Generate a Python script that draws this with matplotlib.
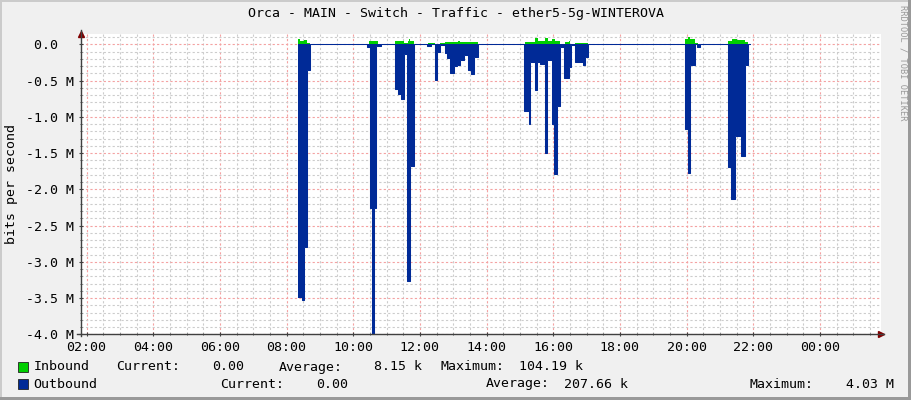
import matplotlib
matplotlib.use("Agg")
import matplotlib.pyplot as plt
import numpy as np
from matplotlib.lines import Line2D
from matplotlib.patches import Rectangle

W, H = 911, 400

title = "Orca - MAIN - Switch - Traffic - ether5-5g-WINTEROVA"

# outbound traffic, Mbit/s, value holds from each time until the next one
out_times = ["08:20", "08:27", "08:31", "08:37", "08:43",
             "10:25", "10:30", "10:33", "10:38", "10:41", "10:50",
             "11:15", "11:20", "11:26", "11:32", "11:37", "11:43", "11:50",
             "12:13", "12:20", "12:27", "12:31", "12:36", "12:45", "12:49", "12:55",
             "13:02", "13:06", "13:13", "13:19", "13:26", "13:32", "13:38", "13:44",
             "15:08", "15:16", "15:19", "15:27", "15:31", "15:37", "15:45", "15:49",
             "15:58", "16:02", "16:07", "16:13", "16:20", "16:28", "16:32", "16:40",
             "16:54", "16:58", "17:03",
             "19:57", "20:02", "20:07", "20:15", "20:19", "20:25",
             "21:15", "21:20", "21:27", "21:38", "21:45", "21:50", "21:55"]
out_mbps = [3.48, 3.52, 2.80, 0.36, 0.0,
            0.04, 2.26, 4.03, 2.26, 0.02, 0.0,
            0.62, 0.68, 0.76, 0.13, 3.26, 1.68, 0.0,
            0.03, 0.0, 0.49, 0.10, 0.01, 0.125, 0.19, 0.40,
            0.30, 0.28, 0.22, 0.15, 0.36, 0.41, 0.18, 0.0,
            0.92, 1.10, 0.25, 0.63, 0.25, 0.27, 1.50, 0.22,
            1.10, 1.79, 0.85, 0.04, 0.47, 0.31, 0.01, 0.24,
            0.28, 0.17, 0.0,
            1.17, 1.77, 0.28, 0.0, 0.04, 0.0,
            1.69, 2.14, 1.27, 1.54, 0.29, 0.0, 0.0]

# inbound traffic, kbit/s
in_times = ["08:20", "08:25", "08:32", "08:37", "08:43",
            "10:28", "10:44",
            "11:15", "11:32", "11:38", "11:40", "11:43", "11:50",
            "12:14", "12:28", "12:36", "12:46", "13:08", "13:13", "13:44",
            "15:10", "15:27", "15:33", "15:45", "15:50", "15:57", "16:03", "16:13",
            "16:21", "16:28", "16:31", "16:39", "17:03",
            "19:58", "20:02", "20:07", "20:15", "20:21",
            "21:15", "21:21", "21:31", "21:37", "21:45", "21:50", "21:55"]
in_kbps = [73, 50, 60, 20, 0,
           45, 0,
           50, 20, 50, 70, 50, 0,
           13, 0, 13, 28, 47, 28, 0,
           28, 90, 40, 90, 40, 80, 50, 10,
           28, 50, 10, 20, 0,
           69, 104, 73, 22, 0,
           45, 73, 64, 60, 28, 0, 0]

x_labels = ["02:00", "04:00", "06:00", "08:00", "10:00", "12:00",
            "14:00", "16:00", "18:00", "20:00", "22:00", "00:00"]
y_major = [0.0, -0.5, -1.0, -1.5, -2.0, -2.5, -3.0, -3.5, -4.0]

legend_rows = [
    ["Inbound", "Current:", "0.00", "Average:", "8.15 k", "Maximum:", "104.19 k"],
    ["Outbound", "Current:", "0.00", "Average:", "207.66 k", "Maximum:", "4.03 M"],
]

GREEN = "#00CF00"
BLUE = "#002A97"
MONO = "DejaVu Sans Mono"
FS = 9.5


def hours(s):
    hh, mm = s.split(":")
    return int(hh) + int(mm) / 60


def px(x, y):
    return x / W, 1 - y / H


fig = plt.figure(figsize=(W / 100, H / 100), dpi=100, facecolor="#F0F0F0")
ax = fig.add_axes([80.5 / W, (H - 334.3) / H, 800 / W, 300 / H])
ax.set_facecolor("white")

x0 = 2 - 6 / 33.33
ax.set_xlim(x0, x0 + 24)
ax.set_ylim(-4.0, 0.138)

xi = [hours(t) for t in in_times]
yi = np.array(in_kbps) / 1000
xo = [hours(t) for t in out_times]
yo = -np.array(out_mbps)

ax.fill_between(xi, yi, 0, step="post", color=GREEN, lw=0, zorder=3)
ax.fill_between(xo, yo, 0, step="post", color=BLUE, lw=0, zorder=4)
ax.step(xo, yo, where="post", color=BLUE, lw=0.75, zorder=5)

# grid
for h in np.arange(2, 26, 0.5):
    major = h % 2 == 0
    ax.axvline(h, color="#F4A2A2" if major else "#CCCCCC", lw=0.8,
               ls=(0, (2, 2)), zorder=1)
for v in np.arange(0.1, -4.05, -0.1):
    v = round(v, 1)
    major = abs(v * 2 - round(v * 2)) < 1e-6
    ax.axhline(v, color="#F4A2A2" if major else "#CCCCCC", lw=0.8,
               ls=(0, (2, 2)), zorder=1)

ax.set_xticks([2 + 2 * i for i in range(len(x_labels))])
ax.set_xticklabels(x_labels, fontfamily=MONO, fontsize=FS)
ax.set_xticks(np.arange(2, 25.9, 0.5), minor=True)
ax.set_yticks(y_major)
ax.set_yticklabels([f"{v:.1f} M" if v != 0 else "0.0  " for v in y_major],
                   fontfamily=MONO, fontsize=FS)
ax.set_yticks(np.arange(0.1, -4.05, -0.1), minor=True)
ax.tick_params(which="major", length=3, direction="inout", color="#404040", pad=3)
ax.tick_params(which="minor", length=2, direction="inout", color="#404040")

for s in ax.spines.values():
    s.set_visible(False)

# axes with arrows
axis_c = "#404040"
fig.add_artist(Line2D(*zip(px(80.5, 336), px(80.5, 30)), color=axis_c, lw=1))
fig.add_artist(Line2D(*zip(px(77, 334.3), px(884, 334.3)), color=axis_c, lw=1))
ax.plot([0], [1.0], transform=ax.transAxes, marker="^", ms=5, color="#800000",
        clip_on=False, zorder=10)
ax.plot([1.0], [0], transform=ax.transAxes, marker=">", ms=5, color="#800000",
        clip_on=False, zorder=10)

fig.text(0.5, 1 - 14 / H, title, ha="center", va="center",
         fontfamily=MONO, fontsize=FS)
fig.text(12 / W, 1 - 184 / H, "bits per second", rotation=90, ha="center",
         va="center", fontfamily=MONO, fontsize=FS)
fig.text(903 / W, 1 - 5 / H, "RRDTOOL / TOBI OETIKER", rotation=270,
         ha="center", va="top", fontfamily=MONO, fontsize=6.2, color="#999999")

# legend
row_y = [367, 384]
row_x = [[33.7, 116, 212, 279, 374, 440.7, 519],
         [33.7, 219.8, 315.7, 485.5, 564, 750, 846]]
for r, (cells, xs, col) in enumerate(zip(legend_rows, row_x, [GREEN, BLUE])):
    y = row_y[r]
    fig.add_artist(Rectangle(px(17.5, y + 5), 10 / W, 10 / H, facecolor=col,
                             edgecolor="#222222", lw=0.6))
    for txt, x in zip(cells, xs):
        fig.text(x / W, 1 - y / H, txt, ha="left", va="center",
                 fontfamily=MONO, fontsize=FS)

# frame shading
fig.add_artist(Rectangle((0, 1 - 2 / H), 1, 2 / H, color="#CBCBCB", lw=0))
fig.add_artist(Rectangle((0, 0), 2 / W, 1, color="#CBCBCB", lw=0))
fig.add_artist(Rectangle((1 - 3 / W, 0), 3 / W, 1, color="#999999", lw=0))
fig.add_artist(Rectangle((0, 0), 1, 3 / H, color="#999999", lw=0))

fig.savefig("out.png", dpi=100, facecolor=fig.get_facecolor())
